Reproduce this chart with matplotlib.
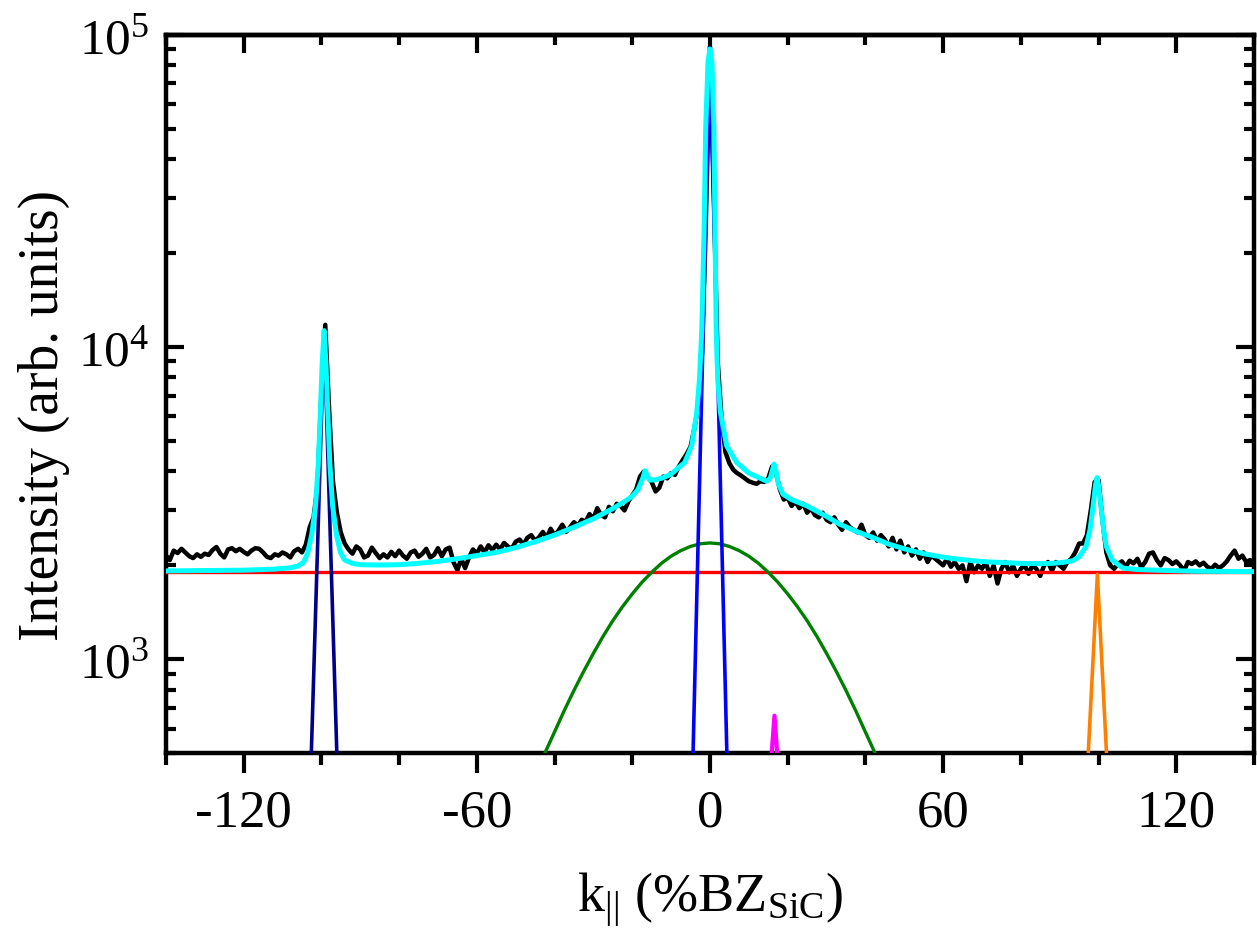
import numpy as np
import matplotlib
matplotlib.use('Agg')
import matplotlib.pyplot as plt
from matplotlib.ticker import FixedLocator, LogLocator, NullFormatter, LogFormatterMathtext

plt.rcParams['font.family'] = ['Liberation Serif', 'DejaVu Serif']
plt.rcParams['mathtext.fontset'] = 'custom'
plt.rcParams['mathtext.rm'] = 'Liberation Serif'
plt.rcParams['mathtext.it'] = 'Liberation Serif:italic'
plt.rcParams['axes.unicode_minus'] = False

# measured profile, one point per %BZ
k_data = np.arange(-140, 141)
I_data = [
    2150, 2080, 2230, 2190, 2260, 2200, 2140, 2110, 2170, 2130,
    2180, 2160, 2240, 2290, 2180, 2120, 2250, 2270, 2220, 2260,
    2210, 2170, 2230, 2270, 2260, 2200, 2130, 2110, 2170, 2150,
    2200, 2170, 2120, 2220, 2260, 2200,
    2330, 2650, 2850, 3600, 7000, 11800, 6300, 3700, 2950, 2550, 2350, 2250,
    2180, 2300, 2250, 2120, 2150, 2280, 2190, 2110, 2170, 2120,
    2210, 2140, 2230, 2150, 2100, 2200, 2230, 2130, 2180, 2260,
    2120, 2160, 2270, 2140, 2250, 2280, 2050, 1930, 2100, 1960,
    2120,
    2250, 2180, 2300, 2200, 2320, 2240, 2330, 2250, 2360, 2300,
    2260, 2380, 2420, 2330, 2450, 2500, 2400, 2460, 2560, 2450,
    2620, 2500, 2580, 2700, 2560, 2650, 2750, 2680, 2800, 2760,
    2920, 2820, 3050, 2900, 2850, 3080, 2980, 3150, 3100, 3000,
    3200,
    3350, 3500, 3850, 4000, 3850, 3700, 3450, 3550, 3850, 3800,
    3950, 3900, 4150, 4350, 4550, 4800, 5500, 6500, 9800, 27000,
    92000,
    30000, 9000, 5900, 4600, 4250, 4050, 3950, 3880, 3800, 3720,
    3680, 3650, 3720, 3700, 3800, 4150, 3950, 3500, 3250, 3300,
    3100, 3200, 3050, 3150, 2950, 3050, 2900, 2850, 2950, 2800,
    2750, 2850, 2700, 2600, 2750, 2650, 2600, 2550, 2700, 2500,
    2450, 2550, 2400, 2500, 2420, 2300, 2450, 2250, 2400, 2200,
    2300, 2150, 2250, 2100, 2200, 2050, 2150, 2100, 2050, 2000,
    2100, 1980, 2050, 1950, 2000, 1780, 2050, 1900, 2000, 1950,
    2050, 1850, 2000, 1750, 1950, 2050, 1900, 2000, 1850, 1950,
    2000, 1880, 2000, 1950, 1850, 2000, 2050, 1920, 2050, 2000,
    1950, 2050, 2100, 2200, 2350,
    2350, 2500, 3000, 3700, 3750, 2800, 2200, 2000,
    1950, 2020, 2060, 1980, 2070, 2030, 2100, 1970, 2050, 2180,
    2200, 2080, 2000, 2110, 2080, 2020, 2060, 2000, 1920, 2050,
    2020, 2060, 2000, 2040, 1980, 1950, 2010, 1960, 2000, 2060,
    2150, 2230, 2100, 2150, 2050, 2080, 2020,
]

# total fit (cyan)
k_fit = [-140, -130, -120, -112, -108, -106, -104.5, -103.5, -102.5, -101.5,
         -100.8, -100.3, -99.8, -99.3, -98.8, -98.3, -97.8, -97.1, -96.1, -95.1,
         -94, -92, -90, -85, -80, -75, -70, -65, -60, -55,
         -50, -45, -40, -35, -30, -25, -22, -20, -18.5, -17.3,
         -16.7, -16.2, -15.5, -14, -12, -10, -8, -6.5, -4.7, -3.4,
         -2.7, -2.1, -1.5, -1.1, -0.5, 0, 0.5, 1.0, 1.3, 1.6,
         2.0, 2.7, 4.3, 6.9, 10, 13, 14.6, 15.5, 16.0, 16.5,
         17.0, 17.6, 18.8, 21, 25, 30, 33.4, 38, 42, 46,
         50.6, 55, 59.1, 63, 67.7, 72, 76.3, 80, 84.8, 88,
         91, 93.4, 95, 96.8, 97.8, 98.6, 99.2, 99.6, 100.0, 100.6,
         101.3, 102, 103.5, 106.3, 110, 114.8, 125, 140]
I_fit = [1920, 1925, 1930, 1945, 1965, 1990, 2050, 2200, 2500, 3100,
         4200, 6000, 8800, 11300, 8800, 6000, 4200, 3100, 2500, 2200,
         2080, 2030, 2010, 2005, 2010, 2030, 2060, 2100, 2150, 2200,
         2280, 2380, 2500, 2650, 2820, 3040, 3200, 3330, 3500, 3800,
         4020, 3900, 3750, 3760, 3820, 3920, 4120, 4270, 4830, 6170,
         7900, 11400, 23900, 50000, 82000, 90200, 82000, 50000, 23900, 11400,
         7900, 6170, 4830, 4270, 3950, 3800, 3720, 3800, 4000, 4220,
         4000, 3650, 3380, 3250, 3100, 2870, 2710, 2560, 2455, 2340,
         2250, 2180, 2135, 2100, 2070, 2050, 2040, 2030, 2025, 2030,
         2045, 2070, 2130, 2300, 2600, 3100, 3600, 3820, 3600, 3100,
         2600, 2300, 2080, 1960, 1940, 1930, 1915, 1910]

# fit components
bg_level = 1900
k_green = [-50, -47.5, -45, -42.5, -40, -37.5, -35, -32.5, -30, -27.5, -25,
           -22.5, -20, -17.5, -15, -12.5, -10, -7.5, -5, -2.5, 0,
           2.5, 5, 7.5, 10, 12.5, 15, 17.5, 20, 22.5, 25,
           27.5, 30, 32.5, 35, 37.5, 40, 42.5, 45, 47.5, 50]
I_green = [300, 360, 425, 500, 585, 685, 795, 915, 1045, 1185, 1330,
           1475, 1620, 1765, 1900, 2030, 2140, 2230, 2300, 2345, 2360,
           2345, 2300, 2230, 2140, 2030, 1900, 1765, 1620, 1475, 1330,
           1185, 1045, 915, 795, 685, 585, 500, 425, 360, 300]
k_blue = [-5, 0, 5]
I_blue = [230, 91000, 230]
k_navy = [-103.6, -99.3, -95.0]
I_navy = [190, 11300, 190]
k_orange = [97.0, 99.7, 102.4]
I_orange = [410, 1870, 410]
k_magenta = [15.5, 16.6, 17.7]
I_magenta = [430, 660, 430]

fig = plt.figure(figsize=(12.57, 9.37), dpi=100)
ax = fig.add_axes([0.132, 0.195, 0.8656, 0.7665])

ax.plot(k_data, I_data, color='black', lw=3.2, zorder=2)
ax.axhline(bg_level, color='red', lw=2.4, zorder=3)
ax.plot(k_green, I_green, color='#008000', lw=2.4, zorder=3)
ax.plot(k_blue, I_blue, color='#0000FF', lw=2.6, zorder=3)
ax.plot(k_navy, I_navy, color='#00008B', lw=2.6, zorder=3)
ax.plot(k_orange, I_orange, color='#FF8000', lw=2.6, zorder=3)
ax.plot(k_magenta, I_magenta, color='#FF00FF', lw=3.0, zorder=3)
ax.plot(k_fit, I_fit, color='#00FFFF', lw=3.6, zorder=4)

ax.set_yscale('log')
ax.set_xlim(-140, 140)
ax.set_ylim(500, 1e5)

ax.xaxis.set_major_locator(FixedLocator([-120, -60, 0, 60, 120]))
ax.xaxis.set_minor_locator(FixedLocator([-140, -100, -80, -40, -20, 20, 40, 80, 100, 140]))
ax.yaxis.set_major_locator(LogLocator(base=10))
ax.yaxis.set_major_formatter(LogFormatterMathtext())
ax.yaxis.set_minor_locator(LogLocator(base=10, subs=np.arange(2, 10)))
ax.yaxis.set_minor_formatter(NullFormatter())

for s in ax.spines.values():
    s.set_linewidth(3.2)

ax.tick_params(axis='x', which='both', direction='out', width=3.0, labelsize=38, pad=11)
ax.tick_params(axis='x', which='major', length=14.5)
ax.tick_params(axis='x', which='minor', length=8.5)
ax.tick_params(axis='y', which='both', direction='in', left=True, right=True,
               width=3.0, labelsize=37, pad=12)
ax.tick_params(axis='y', which='major', length=13)
ax.tick_params(axis='y', which='minor', length=7.5)

top = ax.secondary_xaxis('top')
top.xaxis.set_major_locator(FixedLocator([-120, -60, 0, 60, 120]))
top.xaxis.set_minor_locator(FixedLocator([-140, -100, -80, -40, -20, 20, 40, 80, 100, 140]))
top.tick_params(axis='x', which='both', direction='in', width=3.0, labeltop=False)
top.tick_params(axis='x', which='major', length=13)
top.tick_params(axis='x', which='minor', length=7.5)
top.spines['top'].set_linewidth(3.2)

ax.set_xlabel(r'k$_{||}$ (%BZ$_{\mathrm{SiC}}$)', fontsize=39, labelpad=24)
ax.set_ylabel('Intensity (arb. units)', fontsize=40)
ax.yaxis.set_label_coords(-0.088, 0.472)

fig.savefig('out.png', dpi=100)
